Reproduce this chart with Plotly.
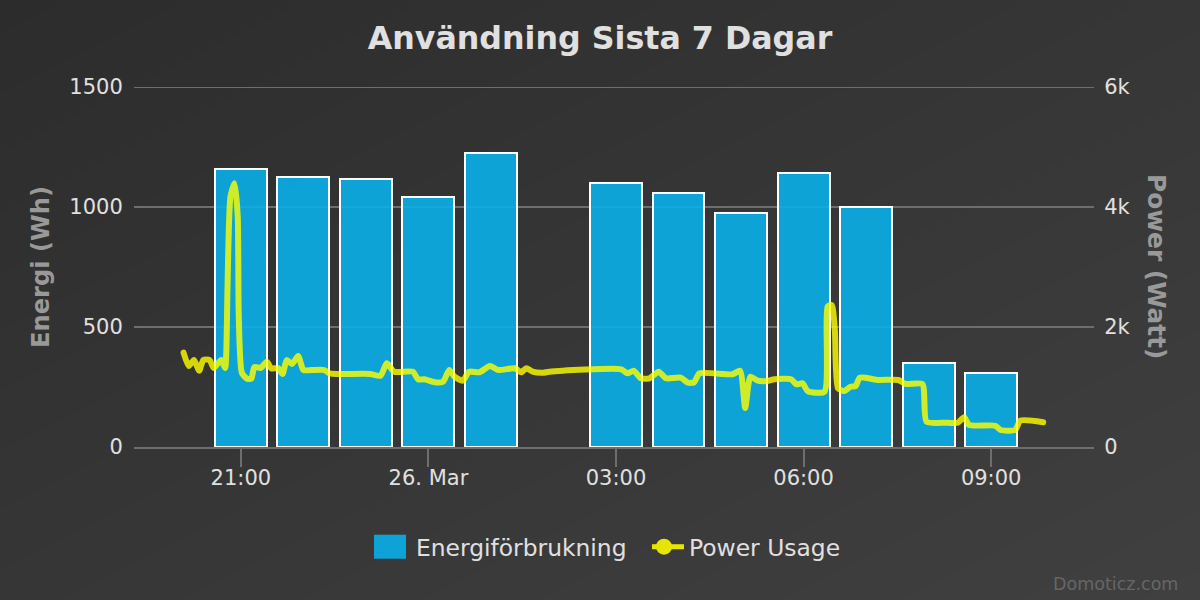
import base64, struct, zlib
import numpy as np
import pandas as pd
import plotly.graph_objects as go

TITLE = "Användning Sista 7 Dagar"
START = pd.Timestamp("2021-03-25 20:00")

BAR_HOURS = ["2021-03-25 21:00", "2021-03-25 22:00", "2021-03-25 23:00", "2021-03-26 00:00",
             "2021-03-26 01:00", "2021-03-26 03:00", "2021-03-26 04:00", "2021-03-26 05:00",
             "2021-03-26 06:00", "2021-03-26 07:00", "2021-03-26 08:00", "2021-03-26 09:00"]
ENERGY_WH = [1158, 1125, 1117, 1042, 1225, 1100, 1058, 975, 1142, 1000, 350, 308]

# minutes after 20:00, and watts
LINE_MINUTES = [5, 10, 15, 20, 24, 30, 34, 41, 45, 46, 50, 54, 57, 58, 61, 66, 70, 73, 79, 85, 89, 96,
                100, 104, 109, 115, 120, 128, 140, 145, 158, 184, 194, 200, 207, 225, 230, 236, 246,
                254, 260, 265, 273, 279, 289, 299, 307, 323, 329, 334, 340, 350, 356, 425, 431, 437,
                444, 452, 461, 468, 482, 489, 495, 500, 532, 539, 544, 549, 556, 565, 572, 588, 593,
                599, 604, 620, 623, 627, 630, 633, 639, 645, 650, 654, 672, 691, 698, 714, 718, 736,
                748, 754, 759, 784, 789, 803, 808, 830]
LINE_WATT = [1572, 1350, 1450, 1272, 1450, 1450, 1317, 1450, 1317, 1570, 4172, 4395, 3838, 2172, 1233,
             1138, 1138, 1333, 1317, 1422, 1312, 1312, 1217, 1450, 1383, 1517, 1283, 1283, 1283, 1228,
             1217, 1217, 1188, 1395, 1255, 1255, 1128, 1128, 1078, 1088, 1283, 1172, 1105, 1255, 1245,
             1350, 1283, 1312, 1245, 1312, 1255, 1238, 1255, 1295, 1228, 1272, 1145, 1145, 1255, 1145,
             1155, 1072, 1078, 1228, 1212, 1272, 650, 1172, 1105, 1100, 1128, 1128, 1045, 1062, 933,
             922, 2338, 2367, 1950, 978, 933, 1005, 1017, 1155, 1117, 1117, 1050, 1050, 422, 405, 405,
             495, 367, 355, 283, 283, 438, 412]

X_TICKS = ["2021-03-25 21:00", "2021-03-26 00:00", "2021-03-26 03:00", "2021-03-26 06:00", "2021-03-26 09:00"]
X_LABELS = ["21:00", "26. Mar", "03:00", "06:00", "09:00"]
Y_TICKS = [0, 500, 1000, 1500]
Y2_TICKS = [0, 2000, 4000, 6000]
Y2_LABELS = ["0", "2k", "4k", "6k"]

FONT = "DejaVu Sans"
GRID = "#6e6e6e"
TXT = "#e0e0e0"
AXT = "#999999"


def gradient_png(w=600, h=300, c0=44, c1=64):
    yy, xx = np.mgrid[0:h, 0:w]
    t = (xx / (w - 1) + yy / (h - 1)) / 2
    img = np.round(c0 + (c1 - c0) * t).astype(np.uint8)
    raw = b"".join(b"\x00" + row.tobytes() for row in img)

    def chunk(tag, data):
        return struct.pack(">I", len(data)) + tag + data + struct.pack(">I", zlib.crc32(tag + data))

    png = (b"\x89PNG\r\n\x1a\n" + chunk(b"IHDR", struct.pack(">IIBBBBB", w, h, 8, 0, 0, 0, 0))
           + chunk(b"IDAT", zlib.compress(raw)) + chunk(b"IEND", b""))
    return "data:image/png;base64," + base64.b64encode(png).decode()


line_x = [START + pd.Timedelta(minutes=m) for m in LINE_MINUTES]

fig = go.Figure()
fig.add_bar(x=BAR_HOURS, y=ENERGY_WH, name="Energiförbrukning", width=2990000,
            marker=dict(color="rgba(9,175,232,0.9)", line=dict(color="white", width=2)))
fig.add_scatter(x=line_x, y=LINE_WATT, yaxis="y2", mode="lines", showlegend=False, opacity=0.8,
                line=dict(color="#ffff00", width=6, shape="spline", smoothing=0.6), hoverinfo="skip")
fig.add_scatter(x=[None], y=[None], yaxis="y2", mode="lines+markers", name="Power Usage",
                line=dict(color="#e6e600", width=5), marker=dict(color="#e6e600", size=16))

fig.update_layout(
    width=1200, height=600, autosize=False,
    margin=dict(l=134, r=106, t=87, b=153, pad=0),
    paper_bgcolor="#363636", plot_bgcolor="rgba(0,0,0,0)",
    font=dict(family=FONT, color=TXT, size=20),
    title=dict(text=TITLE, x=0.5, xanchor="center", y=0.937, yanchor="middle",
               font=dict(size=31.7, color=TXT, weight="bold")),
    bargap=0,
    xaxis=dict(type="date", range=["2021-03-25 19:17:27", "2021-03-26 10:38:42"],
               tickmode="array", tickvals=X_TICKS, ticktext=X_LABELS,
               ticks="outside", ticklen=18, tickwidth=2, tickcolor=GRID, ticklabelstandoff=-7,
               showgrid=False, showline=True, linecolor=GRID, linewidth=2,
               tickfont=dict(size=21, color=TXT)),
    yaxis=dict(range=[0, 1500], tickmode="array", tickvals=Y_TICKS,
               gridcolor=GRID, gridwidth=2, zeroline=False, ticks="outside", ticklen=6,
               tickcolor="rgba(0,0,0,0)", tickfont=dict(size=21, color=TXT),
               title=dict(text="Energi (Wh)", standoff=12, font=dict(size=24.2, color=AXT, weight="bold"))),
    yaxis2=dict(range=[0, 6000], overlaying="y", side="right", tickmode="array",
                tickvals=Y2_TICKS, ticktext=Y2_LABELS, showgrid=False, zeroline=False,
                ticks="outside", ticklen=5, tickcolor="rgba(0,0,0,0)",
                tickfont=dict(size=21, color=TXT)),
    legend=dict(orientation="h", x=(374 - 134) / 960, xanchor="left", y=(87 - 547) / 360 + 1, yanchor="middle",
                font=dict(size=23.4, color=TXT), bgcolor="rgba(0,0,0,0)", itemwidth=32,
                entrywidth=226, entrywidthmode="pixels", traceorder="normal"),
    images=[dict(source=gradient_png(), xref="paper", yref="paper", x=-134 / 960, y=1 + 87 / 360,
                 sizex=1200 / 960, sizey=600 / 360, sizing="stretch", layer="below",
                 xanchor="left", yanchor="top")],
    shapes=[dict(type="line", xref="paper", yref="y", x0=0, x1=1, y0=1500, y1=1500, layer="below",
                 line=dict(color=GRID, width=2))],
    annotations=[
        dict(text="Domoticz.com", xref="paper", yref="paper", x=(1180 - 134) / 960, y=(87 - 584) / 360 + 1,
             xanchor="right", yanchor="middle", showarrow=False, font=dict(size=17.5, color="#666666")),
        dict(text="Power (Watt)", xref="paper", yref="paper", x=(1157 - 134) / 960, y=(87 - 266) / 360 + 1,
             xanchor="center", yanchor="middle", showarrow=False, textangle=90,
             font=dict(size=24.8, color=AXT, weight="bold")),
    ],
)

POST = """
document.body.style.margin = '0';
var legendItems = document.querySelectorAll('.legend .traces');
if (legendItems.length > 1) {
  legendItems[0].querySelectorAll('.legendpoints path').forEach(function (p) {
    p.setAttribute('d', 'M16,12H-16V-12H16Z');
    p.setAttribute('transform', 'translate(16,0)');
    p.style.stroke = 'none';
    p.style.strokeWidth = '0';
    p.style.fill = '#0da3d6';
    p.style.fillOpacity = '1';
  });
  var sym = legendItems[1].querySelector('.legendsymbols');
  if (sym) { sym.setAttribute('transform', 'translate(-4,0)'); }
}
document.querySelectorAll('.scatterlayer .js-line').forEach(function (p) {
  p.style.strokeLinecap = 'round';
});
"""
fig.write_html("out.html", post_script=POST, config=dict(displayModeBar=False))
